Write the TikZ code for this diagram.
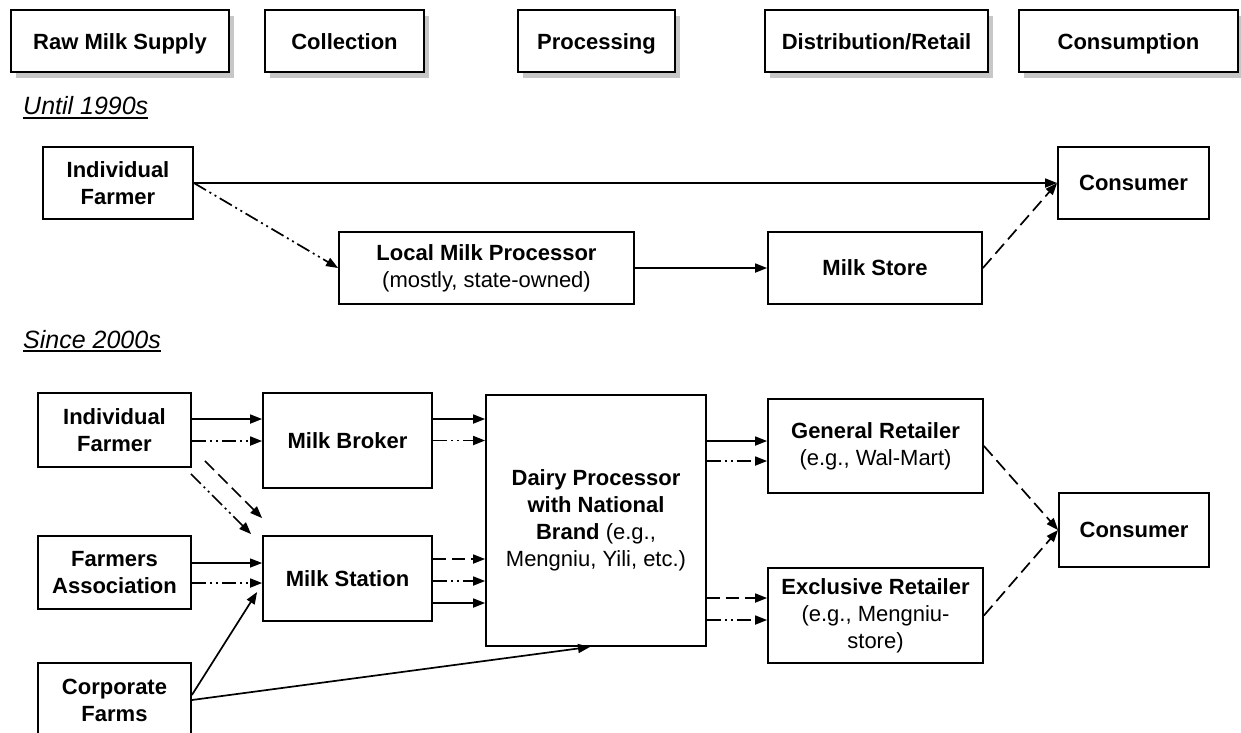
\documentclass[tikz,border=0pt]{standalone}
\usepackage{fontspec}
\setmainfont{Liberation Sans}
\usetikzlibrary{arrows.meta,shadows}

\newcommand{\boxfont}{\fontsize{22}{27}\selectfont}

\tikzset{
  stage/.style={draw, line width=1.8pt, fill=white, minimum height=62pt, inner sep=0pt,
    text height=17pt, text depth=1pt, font=\boxfont\bfseries,
    drop shadow={shadow xshift=5pt, shadow yshift=-6pt, fill=black!22, opacity=1}},
  actor/.style={draw, line width=1.8pt, fill=white, align=center, inner sep=0pt, font=\boxfont\bfseries},
  era/.style={inner sep=0pt, anchor=base west, font=\fontsize{25}{30}\selectfont\itshape},
  flow/.style={-{Triangle[length=12pt,width=9pt]}, line width=1.7pt},
  flowdash/.style={flow, dash pattern=on 13pt off 6pt},
  flowdot/.style={flow, dash pattern=on 14pt off 4pt on 2pt off 4pt on 2pt off 4pt},
}

\begin{document}
\begin{tikzpicture}[x=1pt, y=-1pt]
  \useasboundingbox (0,0) rectangle (1241,732);

  % stages of the chain
  \node[stage, minimum width=218pt] (rawmilk) at (120,41) {Raw Milk Supply};
  \node[stage, minimum width=159pt] (collect) at (344.5,41) {Collection};
  \node[stage, minimum width=157pt] (process) at (596.5,41) {Processing};
  \node[stage, minimum width=223pt] (retail) at (876.5,41) {Distribution/Retail};
  \node[stage, minimum width=219pt] (consume) at (1128.5,41) {Consumption};

  % until 1990s
  \node[era] (until) at (23,114) {Until 1990s};
  \draw[line width=1.2pt] ([yshift=-4pt]until.base west) -- ([yshift=-4pt]until.base east);

  \node[actor, minimum width=150pt, minimum height=72pt] (farmer1) at (118,183) {Individual\\Farmer};
  \node[actor, minimum width=151pt, minimum height=72pt] (consumer1) at (1133.5,183) {Consumer};
  \node[actor, minimum width=295pt, minimum height=72pt] (localproc) at (486.5,268)
    {Local Milk Processor\\\textmd{(mostly, state-owned)}};
  \node[actor, minimum width=214pt, minimum height=72pt] (milkstore) at (875,268) {Milk Store};

  \draw[flow] (farmer1.east) -- (consumer1.west);
  \draw[flowdot] (farmer1.east) -- (localproc.west);
  \draw[flow] (localproc.east) -- (milkstore.west);
  \draw[flowdash] (milkstore.east) -- (consumer1.west);

  % since 2000s
  \node[era] (since) at (23,348) {Since 2000s};
  \draw[line width=1.2pt] ([yshift=-3pt]since.base west) -- ([yshift=-3pt]since.base east);

  \node[actor, minimum width=153pt, minimum height=74pt] (farmer2) at (114.5,430) {Individual\\Farmer};
  \node[actor, minimum width=153pt, minimum height=73pt] (assoc) at (114.5,572.5) {Farmers\\Association};
  \node[actor, minimum width=153pt, minimum height=74pt] (corpfarm) at (114.5,700) {Corporate\\Farms};
  \node[actor, minimum width=169pt, minimum height=95pt] (broker) at (347.5,440.5) {Milk Broker};
  \node[actor, minimum width=169pt, minimum height=85pt] (station) at (347.5,578.5) {Milk Station};
  \node[actor, minimum width=220pt, minimum height=251pt] (dairy) at (596,520.5)
    {Dairy Processor\\with National\\Brand \textmd{(e.g.,}\\\textmd{Mengniu, Yili, etc.)}};
  \node[actor, minimum width=215pt, minimum height=94pt] (general) at (875.5,446)
    {General Retailer\\\textmd{(e.g., Wal-Mart)}};
  \node[actor, minimum width=215pt, minimum height=95pt] (exclusive) at (875.5,615.5)
    {Exclusive Retailer\\\textmd{(e.g., Mengniu-}\\\textmd{store)}};
  \node[actor, minimum width=150pt, minimum height=74pt] (consumer2) at (1134,530) {Consumer};

  \draw[flow] ([yshift=11pt]farmer2.east) -- ([yshift=11pt]farmer2.east -| broker.west);
  \draw[flowdot] ([yshift=-11pt]farmer2.east) -- ([yshift=-11pt]farmer2.east -| broker.west);
  \draw[flowdot] ([shift={(-1pt,-6pt)}]farmer2.south east) -- ([shift={(-11pt,1pt)}]station.north west);
  \draw[flowdash] ([shift={(13pt,7pt)}]farmer2.south east) -- ([yshift=17pt]station.north west);
  \draw[flow, line width=1.1pt] ([yshift=9.5pt]assoc.east) -- ([yshift=9.5pt]assoc.east -| station.west);
  \draw[flowdot] ([yshift=-10.5pt]assoc.east) -- ([yshift=-10.5pt]assoc.east -| station.west);
  \draw[flow] ([yshift=5pt]corpfarm.east) -- ([shift={(-5pt,-13.5pt)}]station.west);
  \draw[flow] (corpfarm.east) -- ([xshift=-6pt]dairy.south);

  \draw[flow] ([yshift=21.5pt]broker.east) -- ([yshift=21.5pt]broker.east -| dairy.west);
  \draw[flowdot] (broker.east) -- (broker.east -| dairy.west);
  \draw[flowdash] ([yshift=19.5pt]station.east) -- ([yshift=19.5pt]station.east -| dairy.west);
  \draw[flowdot] ([yshift=-2.5pt]station.east) -- ([yshift=-2.5pt]station.east -| dairy.west);
  \draw[flow] ([yshift=-24.5pt]station.east) -- ([yshift=-24.5pt]station.east -| dairy.west);

  \draw[flow] ([yshift=79.5pt]dairy.east) -- ([yshift=79.5pt]dairy.east -| general.west);
  \draw[flowdot] ([yshift=59.5pt]dairy.east) -- ([yshift=59.5pt]dairy.east -| general.west);
  \draw[flowdash] ([yshift=-77.5pt]dairy.east) -- ([yshift=-77.5pt]dairy.east -| exclusive.west);
  \draw[flowdot] ([yshift=-99.5pt]dairy.east) -- ([yshift=-99.5pt]dairy.east -| exclusive.west);

  \draw[flowdash] (general.east) -- (consumer2.west);
  \draw[flowdash] (exclusive.east) -- (consumer2.west);
\end{tikzpicture}
\end{document}
